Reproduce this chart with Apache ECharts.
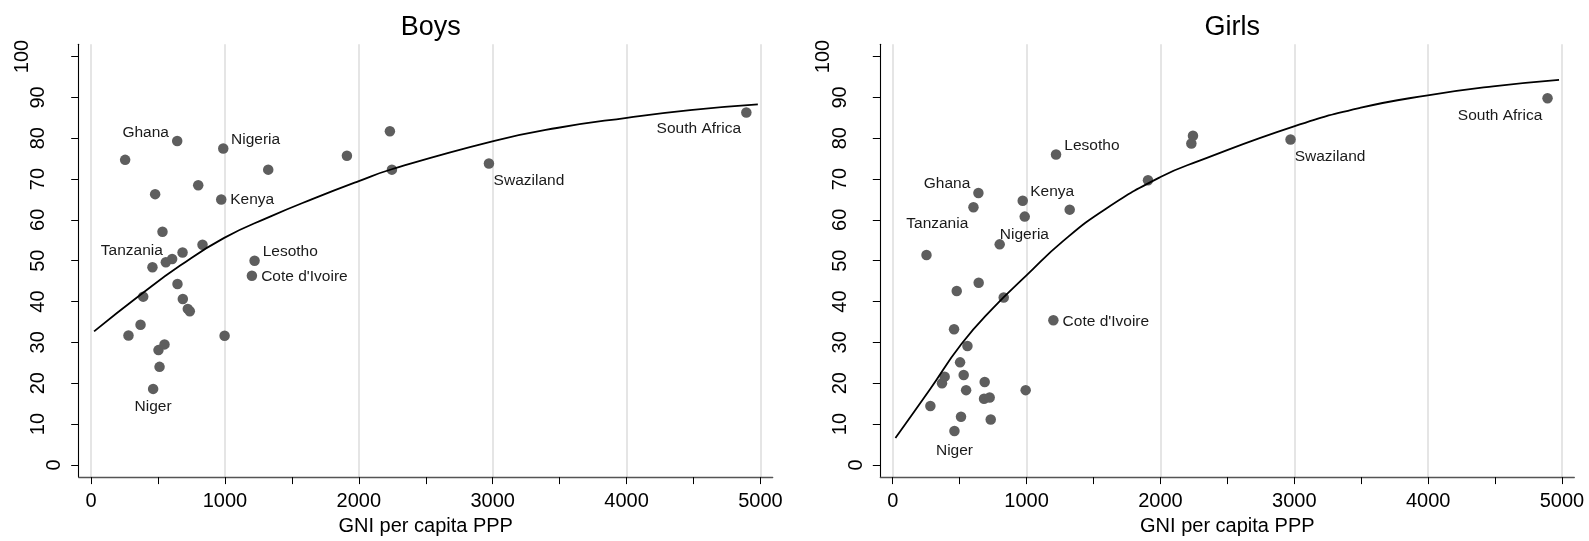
<!DOCTYPE html>
<html><head><meta charset="utf-8">
<script src="https://cdn.jsdelivr.net/npm/echarts@6/dist/echarts.min.js"></script>
<style>html,body{margin:0;padding:0;background:#fff}#c{width:1589px;height:541px}</style>
</head><body><div id="c"></div>
<script>
// ---- data ----
const boysX = [254, 279, 369, 389, 458, 463, 478, 503, 511, 533, 548, 558, 605, 643, 645, 683, 685, 722, 737, 800, 832, 972, 987, 997, 1201, 1221, 1323, 1911, 2232, 2247, 2972, 4895];
const boysY = [74.7, 31.7, 34.3, 41.2, 48.4, 18.6, 66.3, 28.1, 24.0, 57.1, 29.5, 49.6, 50.4, 79.3, 44.3, 52.0, 40.6, 38.2, 37.6, 68.5, 53.9, 65.0, 77.5, 31.6, 46.3, 50.0, 72.3, 75.7, 81.7, 72.3, 73.8, 86.3];
const boysNames = ['', '', '', '', 'Tanzania', 'Niger', '', '', '', '', '', '', '', 'Ghana', '', '', '', '', '', '', '', 'Kenya', 'Nigeria', '', "Cote d'Ivoire", 'Lesotho', '', '', '', '', 'Swaziland', 'South Africa'];

const girlsX = [252, 281, 368, 388, 458, 461, 478, 503, 510, 530, 548, 558, 603, 640, 642, 682, 687, 724, 732, 799, 829, 971, 986, 993, 1200, 1220, 1322, 1907, 2231, 2243, 2972, 4892];
const girlsY = [51.4, 14.4, 20.0, 21.6, 33.2, 8.3, 42.6, 25.1, 11.8, 22.0, 18.3, 29.1, 63.1, 66.6, 44.6, 16.2, 20.3, 16.5, 11.1, 54.0, 41.0, 64.7, 60.8, 18.3, 35.4, 76.0, 62.5, 69.7, 78.7, 80.6, 79.7, 89.8];
const girlsNames = ['Tanzania', '', '', '', '', 'Niger', '', '', '', '', '', '', '', 'Ghana', '', '', '', '', '', 'Nigeria', '', 'Kenya', '', '', "Cote d'Ivoire", 'Lesotho', '', '', '', '', 'Swaziland', 'South Africa'];

const boysFitX = [22, 366, 665, 994, 1337, 1661, 2000, 2246, 3005, 3479, 4002, 4475, 4981];
const boysFitY = [32.7, 41.6, 48.8, 55.6, 60.8, 65.2, 69.5, 72.4, 79.3, 82.5, 85.0, 86.9, 88.3];
const girlsFitX = [20, 276, 513, 749, 999, 1272, 1596, 2000, 2293, 2998, 3489, 3997, 4485, 4978];
const girlsFitY = [6.6, 18.4, 29.6, 38.4, 46.4, 54.8, 62.8, 70.5, 74.5, 82.9, 87.4, 90.5, 92.7, 94.3];

const panelTitles = ['Boys', 'Girls'];
const xAxisTitle = 'GNI per capita PPP';
const xTickValues = [0, 500, 1000, 1500, 2000, 2500, 3000, 3500, 4000, 4500, 5000];
const xLabelValues = [0, 1000, 2000, 3000, 4000, 5000];
const yTickValues = [0, 10, 20, 30, 40, 50, 60, 70, 80, 90, 100];

// ---- styling / label placement (not data) ----
const FONT = 'Liberation Sans, Arial, Helvetica, sans-serif';
const labelOffsets = [
  { 'Ghana': [-31.5, -8.6], 'Nigeria': [32.3, -8.4], 'Kenya': [31, 0.6], 'Lesotho': [35.7, -8.6],
    "Cote d'Ivoire": [52.5, 1.3], 'Tanzania': [-20.6, -16.7], 'Niger': [0, 18.3],
    'Swaziland': [40, 17.3], 'South Africa': [-47.5, 16.7] },
  { 'Lesotho': [35.9, -9.3], 'Ghana': [-31.4, -9.3], 'Kenya': [29.5, -9], 'Tanzania': [10.8, -31.6],
    'Nigeria': [24.7, -9.3], "Cote d'Ivoire": [52.5, 1.7], 'Niger': [0, 19.3],
    'Swaziland': [39.5, 17.3], 'South Africa': [-47.5, 17.7] }
];
const gridLeft = [78.7, 880.3];
const gridW = 694;
const X_MIN = -93, X_MAX = 5092, Y_MIN = -3, Y_MAX = 103;

const grids = [], xAxes = [], yAxes = [], titles = [], series = [];
const panels = [
  { x: boysX, y: boysY, names: boysNames, fx: boysFitX, fy: boysFitY },
  { x: girlsX, y: girlsY, names: girlsNames, fx: girlsFitX, fy: girlsFitY }
];

panels.forEach((p, i) => {
  grids.push({ left: gridLeft[i], top: 44.3, width: gridW, height: 441.7, containLabel: false });
  titles.push({
    text: panelTitles[i], left: gridLeft[i] + gridW / 2, top: 9, textAlign: 'center',
    textStyle: { fontFamily: FONT, fontSize: 27, fontWeight: 'normal', color: '#000' }
  });
  // visible bottom axis
  xAxes.push({
    type: 'value', gridIndex: i, position: 'bottom', min: X_MIN, max: X_MAX,
    name: xAxisTitle, nameLocation: 'middle', nameGap: 33,
    nameTextStyle: { fontFamily: FONT, fontSize: 20, color: '#000' },
    axisLine: { show: true, onZero: false, lineStyle: { color: '#555', width: 1.3 } },
    axisTick: { show: true, length: 7, customValues: xTickValues, lineStyle: { color: '#000', width: 1 } },
    axisLabel: { show: true, customValues: xLabelValues, margin: 14, fontFamily: FONT, fontSize: 20, color: '#000',
      formatter: v => String(v) },
    splitLine: { show: false }
  });
  // hidden axis that only draws the vertical grid lines
  xAxes.push({
    type: 'value', gridIndex: i, position: 'top', min: X_MIN, max: X_MAX,
    minInterval: 1000, maxInterval: 1000,
    axisLine: { show: false }, axisTick: { show: false }, axisLabel: { show: false },
    splitLine: { show: true, showMinLine: false, showMaxLine: false, lineStyle: { color: '#dcdcdc', width: 1.5 } }
  });
  yAxes.push({
    type: 'value', gridIndex: i, min: Y_MIN, max: Y_MAX,
    axisLine: { show: true, onZero: false, lineStyle: { color: '#000', width: 1.1 } },
    axisTick: { show: true, length: 7.5, customValues: yTickValues, lineStyle: { color: '#000', width: 1 } },
    axisLabel: {
      show: true, customValues: yTickValues, rotate: 90, margin: 15.7,
      fontFamily: FONT, fontSize: 20, lineHeight: 16.3, color: '#000',
      formatter: v => { const s = String(v); return s + '\n'.repeat(s.length - 1); }
    },
    splitLine: { show: false }
  });
  const data = p.x.map((xv, k) => {
    const nm = p.names[k];
    const item = { value: [xv, p.y[k]], name: nm };
    if (nm) {
      item.label = { show: true, formatter: nm, position: 'inside', offset: labelOffsets[i][nm] || [0, 0] };
    }
    return item;
  });
  series.push({
    type: 'scatter', xAxisIndex: i * 2, yAxisIndex: i, data: data,
    symbol: 'circle', symbolSize: 10.5, z: 3,
    itemStyle: { color: '#5e5e5e', opacity: 1 },
    label: { show: false, fontFamily: FONT, fontSize: 15.5, color: '#1a1a1a', align: 'center', verticalAlign: 'middle' },
    emphasis: { disabled: true }, silent: true
  });
  series.push({
    type: 'line', xAxisIndex: i * 2, yAxisIndex: i,
    data: p.fx.map((xv, k) => [xv, p.fy[k]]),
    smooth: 0.5, showSymbol: false, symbol: 'none', z: 4,
    lineStyle: { color: '#000', width: 1.8 }, silent: true, animation: false
  });
});

const chart = echarts.init(document.getElementById('c'), null, { renderer: 'canvas' });
chart.setOption({
  animation: false,
  backgroundColor: '#fff',
  title: titles,
  grid: grids,
  xAxis: xAxes,
  yAxis: yAxes,
  series: series
});
</script>
</body></html>
